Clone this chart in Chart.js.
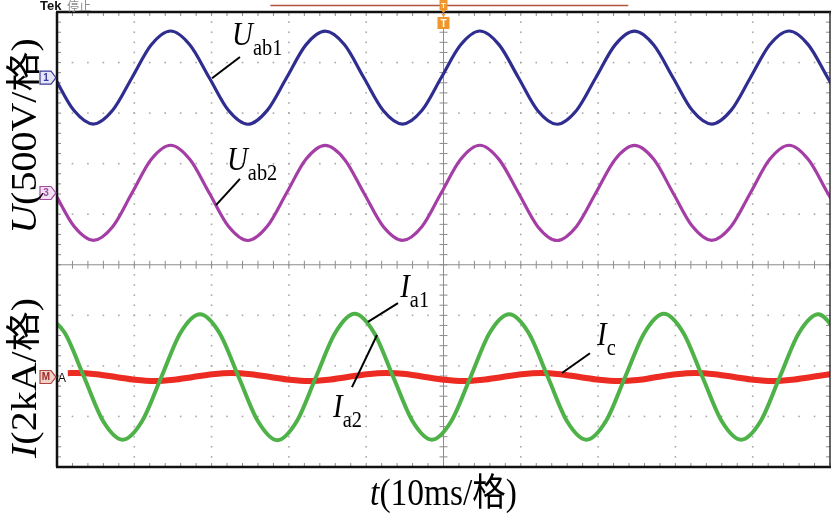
<!DOCTYPE html>
<html>
<head>
<meta charset="utf-8">
<script src="https://cdn.jsdelivr.net/npm/chart.js@4.4.0/dist/chart.umd.min.js"></script>
<style>
  html, body { margin: 0; padding: 0; background: #fff; }
</style>
</head>
<body>
<canvas id="scope" width="834" height="518"></canvas>
<script>
// graticule: 10 div across (10 ms/div), 9 div shown vertically
const timeDivs = [0, 10, 20, 30, 40, 50, 60, 70, 80, 90, 100];
const levelDivs = [0, 1, 2, 3, 4, 5, 6, 7, 8, 9];

// line voltages, V (500 V/div), read every 2.5 ms
const uTime = [-0.3, 2.2, 4.7, 7.2, 9.7, 12.2, 14.7, 17.2, 19.7, 22.2, 24.7, 27.2, 29.7, 32.2,
  34.7, 37.2, 39.7, 42.2, 44.7, 47.2, 49.7, 52.2, 54.7, 57.2, 59.7, 62.2, 64.7, 67.2, 69.7, 72.2,
  74.7, 77.2, 79.7, 82.2, 84.7, 87.2, 89.7, 92.2, 94.7, 97.2, 99.7, 102.2];
const uab1 = [0, -325, -458, -322, 0, 326, 462, 324, 0, -325, -460, -323, 0, 325, 460, 326,
  0, -324, -458, -325, 0, 324, 462, 325, 0, -326, -460, -324, 0, 325, 460, 324,
  0, -325, -458, -323, 0, 326, 462, 325, 0, -325];
const uab2 = [0, -330, -468, -333, 0, 334, 472, 331, 0, -332, -470, -330, 0, 333, 470, 332,
  0, -331, -468, -333, 0, 332, 472, 330, 0, -333, -470, -331, 0, 332, 470, 333,
  0, -330, -468, -332, 0, 333, 472, 331, 0, -332];

// currents, kA (2 kA/div)
const iaTime = [-1.5, 1.0, 3.5, 6.0, 8.5, 11.0, 13.5, 16.0, 18.5, 21.0, 23.5, 26.0, 28.5, 31.0,
  33.5, 36.0, 38.5, 41.0, 43.5, 46.0, 48.5, 51.0, 53.5, 56.0, 58.5, 61.0, 63.5, 66.0, 68.5, 71.0,
  73.5, 76.0, 78.5, 81.0, 83.5, 86.0, 88.5, 91.0, 93.5, 96.0, 98.5, 101.0];
const ia1 = [2.48, 1.75, 0, -1.76, -2.48, -1.75, 0, 1.76, 2.48, 1.75, 0, -1.75, -2.50, -1.76, 0, 1.75,
  2.50, 1.76, 0, -1.75, -2.48, -1.75, 0, 1.76, 2.48, 1.75, 0, -1.76, -2.48, -1.75, 0, 1.75,
  2.50, 1.76, 0, -1.75, -2.48, -1.76, 0, 1.75, 2.48, 1.75];
const icTime = [1.4, 2.6, 5.1, 7.6, 10.1, 12.6, 15.1, 17.6, 20.1, 22.6, 25.1, 27.6, 30.1, 32.6,
  35.1, 37.6, 40.1, 42.6, 45.1, 47.6, 50.1, 52.6, 55.1, 57.6, 60.1, 62.6, 65.1, 67.6, 70.1, 72.6,
  75.1, 77.6, 80.1, 82.6, 85.1, 87.6, 90.1, 92.6, 95.1, 97.6, 100.1, 102.6];
const ic = [0.15, 0.16, 0.11, 0, -0.11, -0.16, -0.11, 0, 0.11, 0.16, 0.11, 0, -0.11, -0.16, -0.11, 0,
  0.11, 0.16, 0.12, 0, -0.11, -0.16, -0.11, 0, 0.11, 0.16, 0.11, 0, -0.11, -0.16, -0.12, 0,
  0.11, 0.16, 0.11, 0, -0.11, -0.16, -0.11, 0, 0.11, 0.16];

// channel settings
const voltsPerDiv = 500, kAPerDiv = 2;
const ch1Zero = 7.70, ch3Zero = 5.42, mathZero = 1.78;

const serif = '"Liberation Serif", "Noto Sans CJK SC", serif';
const blue = '#2f2d8f', magenta = '#a43ea6', green = '#4eb249', red = '#ec2b22';

let toPoints = (times, vals, perDiv, zero) => times.map((t, i) => ({ x: t, y: vals[i] / perDiv + zero }));

// text with mixed fonts, horizontally squeezed like the original figure
let richText = (ctx, parts, x, y, opts) => {
  const o = Object.assign({ sx: 0.88, vertical: false, center: false }, opts);
  ctx.save();
  ctx.translate(x, y);
  ctx.scale(o.sx, 1);
  if (o.vertical) ctx.rotate(-Math.PI / 2);
  ctx.fillStyle = '#000';
  ctx.textBaseline = 'alphabetic';
  let w = 0;
  parts.forEach(p => { ctx.font = p.font; w += ctx.measureText(p.text).width; });
  let xx = o.center ? -w / 2 : 0;
  parts.forEach(p => {
    ctx.font = p.font;
    ctx.fillText(p.text, xx, p.dy || 0);
    xx += ctx.measureText(p.text).width;
  });
  ctx.restore();
};

let chMarker = (ctx, yPx, label, stroke, fill, txtColor) => {
  ctx.save();
  ctx.beginPath();
  ctx.moveTo(40, yPx - 6.5);
  ctx.lineTo(51, yPx - 6.5);
  ctx.lineTo(56, yPx);
  ctx.lineTo(51, yPx + 6.5);
  ctx.lineTo(40, yPx + 6.5);
  ctx.closePath();
  ctx.fillStyle = fill;
  ctx.fill();
  ctx.lineWidth = 1.2;
  ctx.strokeStyle = stroke;
  ctx.stroke();
  ctx.fillStyle = txtColor;
  ctx.font = 'bold 10px "Liberation Sans", sans-serif';
  ctx.textAlign = 'center';
  ctx.textBaseline = 'middle';
  ctx.fillText(label, 46, yPx + 0.5);
  ctx.restore();
};

const tags = [
  { main: 'U', sub: 'ab1', at: [22.64, 8.35], from: [23.67, 8.11], to: [20.05, 7.69] },
  { main: 'U', sub: 'ab2', at: [21.99, 5.87], from: [23.67, 5.70], to: [20.57, 5.18] },
  { main: 'I', sub: 'a1', at: [44.4, 3.36], from: [44.11, 3.24], to: [40.23, 2.87] },
  { main: 'I', sub: 'a2', at: [35.71, 0.99], from: [38.16, 1.58], to: [41.40, 2.61] },
  { main: 'I', sub: 'c', at: [69.86, 2.41], from: [68.95, 2.25], to: [65.33, 1.86] }
];

const scopeDecor = {
  id: 'scopeDecor',
  beforeDatasetsDraw(chart) {
    const { ctx, chartArea: a, scales: { x, y } } = chart;
    ctx.save();
    // dotted graticule
    ctx.fillStyle = '#a8a8a8';
    timeDivs.forEach(t => {
      if (t === 0 || t === 100 || t === 50) return;
      const px = x.getPixelForValue(t);
      for (let k = 0; k <= 45; k++) ctx.fillRect(px - 0.8, y.getPixelForValue(k / 5) - 0.8, 1.6, 1.6);
    });
    levelDivs.forEach(v => {
      if (v === 0 || v === 9 || v === 4) return;
      const py = y.getPixelForValue(v);
      for (let k = 0; k <= 50; k++) ctx.fillRect(x.getPixelForValue(k * 2) - 0.8, py - 0.8, 1.6, 1.6);
    });
    // centre cross with minor ticks
    const cx = x.getPixelForValue(50), cy = y.getPixelForValue(4);
    ctx.strokeStyle = '#8c8c8c';
    ctx.lineWidth = 1;
    ctx.beginPath();
    ctx.moveTo(cx, a.top); ctx.lineTo(cx, a.bottom);
    ctx.moveTo(a.left, cy); ctx.lineTo(a.right, cy);
    for (let k = 0; k <= 45; k++) {
      const py = y.getPixelForValue(k / 5);
      ctx.moveTo(cx - 4, py); ctx.lineTo(cx + 4, py);
      ctx.moveTo(a.left, py); ctx.lineTo(a.left + 4, py);
      ctx.moveTo(a.right, py); ctx.lineTo(a.right - 4, py);
    }
    for (let k = 0; k <= 50; k++) {
      const px = x.getPixelForValue(k * 2);
      ctx.moveTo(px, cy - 4); ctx.lineTo(px, cy + 4);
      ctx.moveTo(px, a.top); ctx.lineTo(px, a.top + 4);
      ctx.moveTo(px, a.bottom); ctx.lineTo(px, a.bottom - 4);
    }
    ctx.stroke();
    ctx.restore();
  },
  afterDatasetsDraw(chart) {
    const { ctx, chartArea: a, scales: { x, y } } = chart;
    ctx.save();
    // frame
    ctx.strokeStyle = '#111';
    ctx.lineWidth = 2.5;
    ctx.beginPath();
    ctx.moveTo(a.left - 1, a.top); ctx.lineTo(a.right + 1, a.top);
    ctx.moveTo(a.left, a.top); ctx.lineTo(a.left, a.bottom);
    ctx.moveTo(a.left - 1, a.bottom); ctx.lineTo(a.right + 1, a.bottom);
    ctx.stroke();
    ctx.lineWidth = 1.5;
    ctx.strokeStyle = '#333';
    ctx.beginPath();
    ctx.moveTo(a.right, a.top); ctx.lineTo(a.right, a.bottom);
    ctx.stroke();

    // header: Tek 停止, record bar and trigger markers
    ctx.fillStyle = '#111';
    ctx.font = 'bold 13px "Liberation Sans", sans-serif';
    ctx.fillText('Tek', 40, 10);
    ctx.fillStyle = '#8a8a8a';
    ctx.font = '12px "Noto Sans CJK SC", sans-serif';
    ctx.fillText('停止', 67, 11);
    ctx.strokeStyle = '#b5533c';
    ctx.lineWidth = 1.6;
    ctx.beginPath();
    ctx.moveTo(x.getPixelForValue(27.6), 5.5); ctx.lineTo(x.getPixelForValue(73.9), 5.5);
    ctx.stroke();
    const tx = x.getPixelForValue(50);
    ctx.fillStyle = '#f0962a';
    ctx.fillRect(tx - 4, 0, 8, 10);
    ctx.beginPath();
    ctx.moveTo(tx - 3, 10); ctx.lineTo(tx + 3, 10); ctx.lineTo(tx, 13); ctx.closePath(); ctx.fill();
    ctx.beginPath();
    ctx.moveTo(tx - 2, 14); ctx.lineTo(tx + 2, 14); ctx.lineTo(tx, 17); ctx.closePath(); ctx.fill();
    ctx.fillRect(tx - 6, 17, 12, 12);
    ctx.fillStyle = '#fff';
    ctx.font = 'bold 8px "Liberation Sans", sans-serif';
    ctx.textAlign = 'center';
    ctx.fillText('T', tx, 8);
    ctx.font = 'bold 10px "Liberation Sans", sans-serif';
    ctx.fillText('T', tx, 27);
    ctx.textAlign = 'left';

    // channel ground markers
    chMarker(ctx, y.getPixelForValue(ch1Zero), '1', '#3a3a9a', '#e6e6f6', '#3a3a9a');
    chMarker(ctx, y.getPixelForValue(ch3Zero), '3', '#a04aa0', '#f4e2f4', '#a04aa0');
    chMarker(ctx, y.getPixelForValue(mathZero), 'M', '#b0443a', '#f2d2cc', '#9a2a22');
    ctx.fillStyle = '#111';
    ctx.font = '12px "Liberation Sans", sans-serif';
    ctx.fillText('A', 58, y.getPixelForValue(mathZero) + 4.5);

    // trace labels with leader lines
    ctx.strokeStyle = '#000';
    ctx.lineWidth = 2;
    tags.forEach(tg => {
      ctx.beginPath();
      ctx.moveTo(x.getPixelForValue(tg.from[0]), y.getPixelForValue(tg.from[1]));
      ctx.lineTo(x.getPixelForValue(tg.to[0]), y.getPixelForValue(tg.to[1]));
      ctx.stroke();
      richText(ctx, [
        { text: tg.main, font: 'italic 34px ' + serif },
        { text: tg.sub, font: '24px ' + serif, dy: 10 }
      ], x.getPixelForValue(tg.at[0]), y.getPixelForValue(tg.at[1]), { sx: 0.85 });
    });
    ctx.restore();

    // axis titles
    richText(ctx, [
      { text: 'U', font: 'italic 40px ' + serif },
      { text: '(500V/格)', font: '40px ' + serif }
    ], 36, 136, { vertical: true, center: true });
    richText(ctx, [
      { text: 'I', font: 'italic 40px ' + serif },
      { text: '(2kA/格)', font: '40px ' + serif }
    ], 36, 378, { vertical: true, center: true });
    richText(ctx, [
      { text: 't', font: 'italic 38px ' + serif },
      { text: '(10ms/格)', font: '38px ' + serif }
    ], x.getPixelForValue(50), 505, { center: true });
  }
};

new Chart(document.getElementById('scope'), {
  type: 'line',
  data: {
    datasets: [
      { label: 'Uab1', data: toPoints(uTime, uab1, voltsPerDiv, ch1Zero), borderColor: blue, borderWidth: 3.2 },
      { label: 'Uab2', data: toPoints(uTime, uab2, voltsPerDiv, ch3Zero), borderColor: magenta, borderWidth: 3.2 },
      { label: 'Ia1/Ia2', data: toPoints(iaTime, ia1, kAPerDiv, mathZero), borderColor: green, borderWidth: 4 },
      { label: 'Ic', data: toPoints(icTime, ic, kAPerDiv, mathZero), borderColor: red, borderWidth: 6 }
    ]
  },
  options: {
    responsive: false,
    animation: false,
    layout: { padding: { left: 57, right: 4, top: 12, bottom: 51 } },
    plugins: { legend: { display: false }, tooltip: { enabled: false } },
    elements: {
      point: { radius: 0 },
      line: { cubicInterpolationMode: 'monotone', fill: false }
    },
    scales: {
      x: { type: 'linear', display: false, min: timeDivs[0], max: timeDivs[timeDivs.length - 1] },
      y: { type: 'linear', display: false, min: levelDivs[0], max: levelDivs[levelDivs.length - 1] }
    }
  },
  plugins: [scopeDecor]
});
</script>
</body>
</html>
